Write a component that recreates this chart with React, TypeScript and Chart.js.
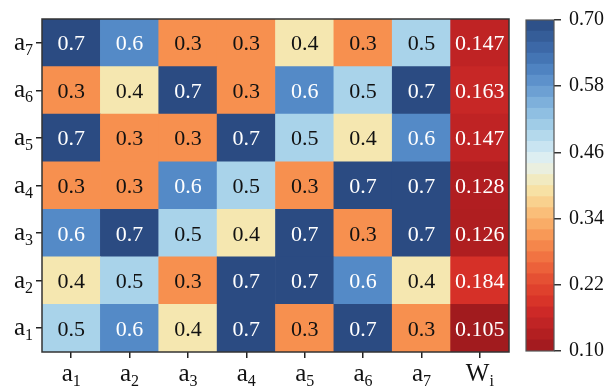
import React, { useEffect, useRef } from "react";
import { Chart, registerables } from "chart.js";

Chart.register(...registerables);

const SERIF = '"Liberation Serif", "Times New Roman", "DejaVu Serif", serif';

// Column labels (base, subscript)
const COLUMN_LABELS: [string, string][] = [
  ["a", "1"], ["a", "2"], ["a", "3"], ["a", "4"], ["a", "5"], ["a", "6"], ["a", "7"], ["W", "i"],
];
// Row labels bottom -> top
const ROW_LABELS: [string, string][] = [
  ["a", "1"], ["a", "2"], ["a", "3"], ["a", "4"], ["a", "5"], ["a", "6"], ["a", "7"],
];

// Cell values for each row, columns a1..a7
const ROW_A1 = [0.5, 0.6, 0.4, 0.7, 0.3, 0.7, 0.3];
const ROW_A2 = [0.4, 0.5, 0.3, 0.7, 0.7, 0.6, 0.4];
const ROW_A3 = [0.6, 0.7, 0.5, 0.4, 0.7, 0.3, 0.7];
const ROW_A4 = [0.3, 0.3, 0.6, 0.5, 0.3, 0.7, 0.7];
const ROW_A5 = [0.7, 0.3, 0.3, 0.7, 0.5, 0.4, 0.6];
const ROW_A6 = [0.3, 0.4, 0.7, 0.3, 0.6, 0.5, 0.7];
const ROW_A7 = [0.7, 0.6, 0.3, 0.3, 0.4, 0.3, 0.5];
// W_i column, rows a1..a7
const WEIGHTS = [0.105, 0.184, 0.126, 0.128, 0.147, 0.163, 0.147];

const COLORBAR_TICKS = [0.1, 0.22, 0.34, 0.46, 0.58, 0.7];
const CB_MIN = 0.1;
const CB_MAX = 0.7;
const CB_STEP = 0.02;

const ROWS = [ROW_A1, ROW_A2, ROW_A3, ROW_A4, ROW_A5, ROW_A6, ROW_A7];
const MATRIX = ROWS.map((r, i) => [...r, WEIGHTS[i]]);

const CMAP: [number, string][] = [
  [0.1, "#9e1a1e"],
  [0.12, "#aa1c1f"],
  [0.14, "#bb2123"],
  [0.16, "#c52626"],
  [0.18, "#d52d27"],
  [0.22, "#e2472f"],
  [0.26, "#ef693d"],
  [0.3, "#f7904f"],
  [0.34, "#fab56f"],
  [0.38, "#f8da98"],
  [0.4, "#f5e7b0"],
  [0.44, "#e6f2ef"],
  [0.46, "#d3eaf3"],
  [0.5, "#a9d3ea"],
  [0.54, "#86b8df"],
  [0.58, "#6598cf"],
  [0.6, "#548ac7"],
  [0.64, "#3f6eae"],
  [0.7, "#2b4b82"],
];

function hexToRgb(h: string) {
  const n = parseInt(h.slice(1), 16);
  return [(n >> 16) & 255, (n >> 8) & 255, n & 255];
}

function cmap(v: number): string {
  if (v <= CMAP[0][0]) return CMAP[0][1];
  if (v >= CMAP[CMAP.length - 1][0]) return CMAP[CMAP.length - 1][1];
  for (let i = 0; i < CMAP.length - 1; i++) {
    const [a, ca] = CMAP[i];
    const [b, cb] = CMAP[i + 1];
    if (v >= a && v <= b) {
      const t = (v - a) / (b - a);
      const A = hexToRgb(ca);
      const B = hexToRgb(cb);
      const c = A.map((x, k) => Math.round(x + (B[k] - x) * t));
      return `rgb(${c[0]},${c[1]},${c[2]})`;
    }
  }
  return CMAP[0][1];
}

function drawSubLabel(
  ctx: CanvasRenderingContext2D,
  base: string,
  sub: string,
  x: number,
  y: number,
  align: "center" | "right"
) {
  const baseFont = `25px ${SERIF}`;
  const subFont = `16px ${SERIF}`;
  ctx.font = baseFont;
  const wb = ctx.measureText(base).width;
  ctx.font = subFont;
  const ws = ctx.measureText(sub).width;
  const total = wb + ws;
  const start = align === "center" ? x - total / 2 : x - total;
  ctx.textAlign = "left";
  ctx.textBaseline = "alphabetic";
  ctx.font = baseFont;
  ctx.fillText(base, start, y);
  ctx.font = subFont;
  ctx.fillText(sub, start + wb, y + 5);
}

const heatPlugin = {
  id: "heatText",
  afterDatasetsDraw(chart: any) {
    const ctx: CanvasRenderingContext2D = chart.ctx;
    ctx.save();
    ctx.font = `22px ${SERIF}`;
    ctx.textAlign = "center";
    ctx.textBaseline = "alphabetic";
    MATRIX.forEach((row, ri) => {
      const meta = chart.getDatasetMeta(ri);
      row.forEach((v, ci) => {
        const el = meta.data[ci];
        if (!el) return;
        const cy = (el.y + el.base) / 2;
        const dark = ci === row.length - 1 || v >= 0.6;
        ctx.fillStyle = dark ? "#ffffff" : "#111111";
        ctx.fillText(String(v), el.x, cy + 7.5);
      });
    });
    ctx.restore();
  },
  afterDraw(chart: any) {
    const ctx: CanvasRenderingContext2D = chart.ctx;
    const { left, right, top, bottom } = chart.chartArea;
    ctx.save();
    ctx.strokeStyle = "#333";
    ctx.lineWidth = 1.5;
    ctx.strokeRect(left, top, right - left, bottom - top);
    ctx.fillStyle = "#111";
    const xs = chart.scales.x;
    COLUMN_LABELS.forEach(([b, s], i) => {
      drawSubLabel(ctx, b, s, xs.getPixelForValue(i), bottom + 29, "center");
    });
    const ys = chart.scales.y;
    ROW_LABELS.forEach(([b, s], i) => {
      drawSubLabel(ctx, b, s, left - 9, ys.getPixelForValue(i + 0.5) + 7, "right");
    });
    ctx.restore();
  },
};

const frameCbPlugin = {
  id: "cbFrame",
  afterDraw(chart: any) {
    const ctx: CanvasRenderingContext2D = chart.ctx;
    const { left, right, top, bottom } = chart.chartArea;
    ctx.save();
    ctx.strokeStyle = "#555";
    ctx.lineWidth = 1.2;
    ctx.strokeRect(left, top, right - left, bottom - top);
    ctx.restore();
  },
};

export default function App() {
  const mainRef = useRef<HTMLCanvasElement | null>(null);
  const cbRef = useRef<HTMLCanvasElement | null>(null);

  useEffect(() => {
    const tickGrid = {
      display: true,
      drawOnChartArea: false,
      drawTicks: true,
      tickLength: 6,
      color: "#222",
      lineWidth: 1.5,
      offset: false,
    };
    const main = new Chart(mainRef.current!, {
      type: "bar",
      data: {
        labels: COLUMN_LABELS.map(([b, s]) => b + s),
        datasets: MATRIX.map((row, i) => ({
          label: ROW_LABELS[i].join(""),
          data: row.map(() => 1),
          backgroundColor: row.map((v) => cmap(v)),
          borderWidth: 0,
          barPercentage: 1,
          categoryPercentage: 1,
        })),
      },
      options: {
        responsive: false,
        animation: false,
        devicePixelRatio: 1,
        layout: { padding: { top: 19, right: 11, left: 0, bottom: 0 } },
        plugins: { legend: { display: false }, tooltip: { enabled: false } },
        scales: {
          x: {
            type: "category",
            stacked: true,
            offset: true,
            grid: tickGrid,
            border: { display: false },
            ticks: { display: false },
            afterFit: (s: any) => {
              s.height = 35;
            },
          },
          y: {
            type: "linear",
            stacked: true,
            min: 0,
            max: ROW_LABELS.length,
            grid: tickGrid,
            border: { display: false },
            ticks: { display: false },
            afterBuildTicks: (s: any) => {
              s.ticks = ROW_LABELS.map((_, i) => ({ value: i + 0.5 }));
            },
            afterFit: (s: any) => {
              s.width = 42;
            },
          },
        },
      } as any,
      plugins: [heatPlugin],
    });

    const bands: { lo: number; hi: number }[] = [];
    const n = Math.round((CB_MAX - CB_MIN) / CB_STEP);
    for (let i = 0; i < n; i++) {
      bands.push({ lo: CB_MIN + i * CB_STEP, hi: CB_MIN + (i + 1) * CB_STEP });
    }
    const cb = new Chart(cbRef.current!, {
      type: "bar",
      data: {
        labels: [""],
        datasets: bands.map((b) => ({
          data: [[b.lo, b.hi]],
          backgroundColor: cmap((b.lo + b.hi) / 2),
          borderWidth: 0,
          grouped: false,
          barPercentage: 1,
          categoryPercentage: 1,
        })),
      } as any,
      options: {
        responsive: false,
        animation: false,
        devicePixelRatio: 1,
        layout: { padding: { top: 18, bottom: 36, left: 11, right: 0 } },
        plugins: { legend: { display: false }, tooltip: { enabled: false } },
        scales: {
          x: { display: false },
          y: {
            type: "linear",
            position: "right",
            min: CB_MIN,
            max: CB_MAX,
            afterBuildTicks: (s: any) => {
              s.ticks = COLORBAR_TICKS.map((v) => ({ value: v }));
            },
            ticks: {
              callback: (v: any) => Number(v).toFixed(2),
              font: { family: SERIF, size: 20 },
              color: "#111",
              padding: 8,
              autoSkip: false,
            },
            grid: {
              drawOnChartArea: false,
              drawTicks: true,
              tickLength: 7,
              color: "#333",
              lineWidth: 1.5,
            },
            border: { display: false },
            afterFit: (s: any) => {
              s.width = 55;
            },
          },
        },
      } as any,
      plugins: [frameCbPlugin],
    });

    return () => {
      main.destroy();
      cb.destroy();
    };
  }, []);

  return (
    <div
      style={{
        position: "fixed",
        left: 0,
        top: 0,
        width: 609,
        height: 387,
        background: "#fff",
        overflow: "hidden",
      }}
    >
      <canvas
        ref={mainRef}
        width={520}
        height={387}
        style={{ position: "absolute", left: 0, top: 0, width: 520, height: 387 }}
      />
      <canvas
        ref={cbRef}
        width={94}
        height={387}
        style={{ position: "absolute", left: 515, top: 0, width: 94, height: 387 }}
      />
    </div>
  );
}
